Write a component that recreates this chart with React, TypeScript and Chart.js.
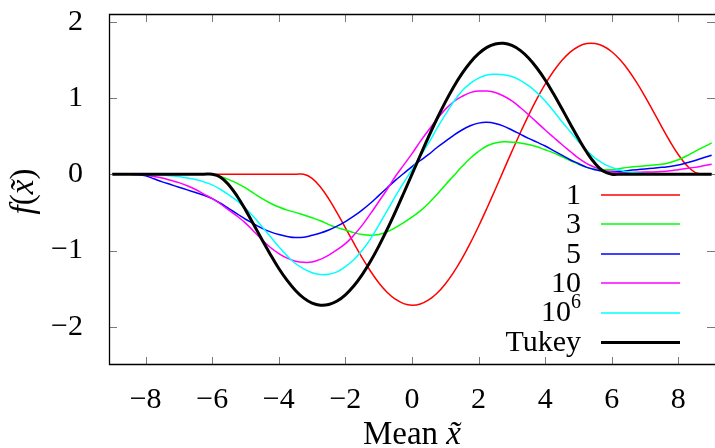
import { useEffect, useRef } from 'react';
import { Chart, registerables } from 'chart.js';

Chart.register(...registerables);

// x positions (mean x̃), every 0.25
const xs = [
  -9, -8.75, -8.5, -8.25, -8, -7.75, -7.5, -7.25, -7, -6.75, -6.5, -6.25, -6,
  -5.75, -5.5, -5.25, -5, -4.75, -4.5, -4.25, -4, -3.75, -3.5, -3.25, -3,
  -2.75, -2.5, -2.25, -2, -1.75, -1.5, -1.25, -1, -0.75, -0.5, -0.25, 0,
  0.25, 0.5, 0.75, 1, 1.25, 1.5, 1.75, 2, 2.25, 2.5, 2.75, 3,
  3.25, 3.5, 3.75, 4, 4.25, 4.5, 4.75, 5, 5.25, 5.5, 5.75, 6,
  6.25, 6.5, 6.75, 7, 7.25, 7.5, 7.75, 8, 8.25, 8.5, 8.75, 9,
];

const series1 = [
  0, 0, 0, 0, 0, 0, 0, 0, 0, 0, 0, 0, 0,
  0, 0, 0, 0, 0, 0, 0, 0, 0, 0, 0, -0.054,
  -0.167, -0.322, -0.505, -0.702, -0.901, -1.092, -1.268, -1.421, -1.546, -1.638, -1.696, -1.717,
  -1.701, -1.648, -1.56, -1.438, -1.286, -1.106, -0.903, -0.681, -0.445, -0.2, 0.05, 0.299,
  0.541, 0.772, 0.987, 1.181, 1.35, 1.491, 1.6, 1.674, 1.712, 1.713, 1.677, 1.605,
  1.499, 1.363, 1.2, 1.017, 0.821, 0.622, 0.429, 0.256, 0.116, 0.025, 0, 0,
];
const series3 = [
  0, 0, 0, 0, 0, 0, 0, 0, 0, 0, 0, 0, 0,
  -0.03, -0.07, -0.12, -0.18, -0.25, -0.32, -0.38, -0.43, -0.47, -0.5, -0.535, -0.57,
  -0.61, -0.66, -0.7, -0.73, -0.765, -0.79, -0.8, -0.79, -0.755, -0.7, -0.635, -0.56,
  -0.48, -0.38, -0.265, -0.14, -0.02, 0.1, 0.21, 0.3, 0.37, 0.41, 0.425, 0.42,
  0.41, 0.39, 0.36, 0.32, 0.28, 0.23, 0.18, 0.13, 0.09, 0.07, 0.06, 0.06,
  0.075, 0.09, 0.1, 0.11, 0.12, 0.13, 0.155, 0.19, 0.24, 0.3, 0.355, 0.41,
];
const series5 = [
  0, 0, 0, -0.005, -0.02, -0.06, -0.1, -0.135, -0.17, -0.205, -0.24, -0.275, -0.32,
  -0.38, -0.45, -0.52, -0.59, -0.65, -0.71, -0.755, -0.79, -0.815, -0.83, -0.825, -0.8,
  -0.77, -0.73, -0.68, -0.62, -0.55, -0.47, -0.38, -0.28, -0.18, -0.08, 0.01, 0.1,
  0.18, 0.26, 0.35, 0.43, 0.51, 0.58, 0.635, 0.67, 0.68, 0.665, 0.63, 0.58,
  0.525, 0.47, 0.42, 0.37, 0.31, 0.25, 0.19, 0.14, 0.09, 0.06, 0.04, 0.035,
  0.04, 0.05, 0.06, 0.07, 0.08, 0.09, 0.1, 0.12, 0.15, 0.18, 0.215, 0.25,
];
const series10 = [
  0, 0, 0, -0.003, -0.01, -0.03, -0.05, -0.08, -0.11, -0.15, -0.2, -0.26, -0.32,
  -0.39, -0.47, -0.55, -0.64, -0.75, -0.86, -0.96, -1.04, -1.1, -1.14, -1.155, -1.15,
  -1.115, -1.06, -0.99, -0.91, -0.8, -0.67, -0.52, -0.36, -0.2, -0.03, 0.12, 0.27,
  0.43, 0.58, 0.72, 0.85, 0.95, 1.02, 1.07, 1.09, 1.09, 1.07, 1.025, 0.96,
  0.875, 0.78, 0.68, 0.58, 0.485, 0.39, 0.3, 0.21, 0.14, 0.09, 0.05, 0.03,
  0.02, 0.02, 0.025, 0.03, 0.03, 0.035, 0.045, 0.06, 0.075, 0.09, 0.11, 0.13,
];
const series1e6 = [
  0, 0, 0, 0, 0, -0.005, -0.01, -0.02, -0.03, -0.05, -0.07, -0.1, -0.14,
  -0.2, -0.27, -0.35, -0.45, -0.56, -0.69, -0.82, -0.95, -1.07, -1.17, -1.24, -1.29,
  -1.315, -1.31, -1.28, -1.21, -1.12, -1.0, -0.85, -0.67, -0.48, -0.29, -0.11, 0.06,
  0.24, 0.41, 0.6, 0.78, 0.95, 1.09, 1.19, 1.26, 1.3, 1.31, 1.305, 1.28,
  1.23, 1.16, 1.07, 0.96, 0.83, 0.69, 0.56, 0.43, 0.31, 0.21, 0.14, 0.09,
  0.055, 0.03, 0.02, 0.01, 0.005, 0, 0, 0, 0, 0, 0, 0,
];
const seriesTukey = [
  0, 0, 0, 0, 0, 0, 0, 0, 0, 0, 0, 0, 0,
  -0.038, -0.14, -0.288, -0.467, -0.662, -0.861, -1.055, -1.235, -1.392, -1.523, -1.623, -1.688,
  -1.716, -1.707, -1.662, -1.58, -1.465, -1.318, -1.144, -0.945, -0.727, -0.493, -0.249, 0,
  0.249, 0.493, 0.727, 0.945, 1.144, 1.318, 1.465, 1.58, 1.662, 1.707, 1.716, 1.688,
  1.623, 1.523, 1.392, 1.235, 1.055, 0.861, 0.662, 0.467, 0.288, 0.14, 0.038, 0,
  0, 0, 0, 0, 0, 0, 0, 0, 0, 0, 0, 0,
];

const seriesLabels = ['1', '3', '5', '10', '10^6', 'Tukey'];
const seriesValues = [series1, series3, series5, series10, series1e6, seriesTukey];
const seriesColors = ['#ff0000', '#00ff00', '#0000ff', '#ff00ff', '#00ffff', '#000000'];
const seriesWidths = [1.5, 1.5, 1.5, 1.5, 1.5, 3];

const xTicks = [-8, -6, -4, -2, 0, 2, 4, 6, 8];
const yTicks = [-2, -1, 0, 1, 2];

const SERIF = "'Liberation Serif', 'DejaVu Serif', serif";
const FONT_SIZE = 30;
const TITLE_SIZE = 33;

const fmt = (v: number) => (v < 0 ? '\u2212' + Math.abs(v) : String(v));

type Piece = { t: string; italic?: boolean };

function drawPieces(ctx: CanvasRenderingContext2D, pieces: Piece[], cx: number, baseline: number, size: number) {
  const widths = pieces.map((p) => {
    ctx.font = `${p.italic ? 'italic ' : ''}${size}px ${SERIF}`;
    return ctx.measureText(p.t).width;
  });
  const total = widths.reduce((a, b) => a + b, 0);
  let x = cx - total / 2;
  ctx.textAlign = 'left';
  ctx.textBaseline = 'alphabetic';
  pieces.forEach((p, i) => {
    ctx.font = `${p.italic ? 'italic ' : ''}${size}px ${SERIF}`;
    ctx.fillText(p.t, x, baseline);
    x += widths[i];
  });
}

const decorPlugin = {
  id: 'decor',
  beforeDatasetsDraw(chart: any) {
    const { ctx, chartArea: a, scales } = chart;
    ctx.save();
    const tl = 8;
    ctx.strokeStyle = '#7a7a7a';
    ctx.lineWidth = 1;
    const seg = (x1: number, y1: number, x2: number, y2: number) => {
      ctx.beginPath();
      ctx.moveTo(x1, y1);
      ctx.lineTo(x2, y2);
      ctx.stroke();
    };
    xTicks.forEach((v) => {
      const px = Math.round(scales.x.getPixelForValue(v)) + 0.5;
      seg(px, a.bottom, px, a.bottom - tl);
      seg(px, a.top, px, a.top + tl);
    });
    yTicks.forEach((v) => {
      const py = Math.round(scales.y.getPixelForValue(v)) + 0.5;
      seg(a.left, py, a.left + tl, py);
      seg(a.right, py, a.right - tl, py);
    });
    ctx.strokeStyle = '#000';
    ctx.lineWidth = 1.3;
    ctx.beginPath();
    ctx.moveTo(a.right + 2, a.top + 0.5);
    ctx.lineTo(a.left + 0.5, a.top + 0.5);
    ctx.lineTo(a.left + 0.5, a.bottom - 0.5);
    ctx.lineTo(a.right + 2, a.bottom - 0.5);
    ctx.stroke();
    ctx.restore();
  },
  afterDraw(chart: any) {
    const { ctx, chartArea: a } = chart;
    ctx.save();
    ctx.fillStyle = '#000';
    // x axis title
    drawPieces(ctx, [{ t: 'Mean ' }, { t: 'x\u0303', italic: true }], (a.left + a.right) / 2, 444, TITLE_SIZE);
    // y axis title (rotated)
    ctx.save();
    ctx.translate(33, (a.top + a.bottom) / 2 + 2);
    ctx.rotate(-Math.PI / 2);
    drawPieces(
      ctx,
      [{ t: 'f', italic: true }, { t: '(' }, { t: 'x\u0303', italic: true }, { t: ')' }],
      0,
      0,
      TITLE_SIZE
    );
    ctx.restore();

    // legend
    const textRight = a.right - 134;
    const lx1 = a.right - 114;
    const lx2 = a.right - 35;
    const rowGap = 29.4;
    const n = chart.data.datasets.length;
    chart.data.datasets.forEach((ds: any, i: number) => {
      const y = a.bottom - 23 - (n - 1 - i) * rowGap;
      const label: string = seriesLabels[i];
      ctx.textBaseline = 'middle';
      ctx.fillStyle = '#000';
      if (label.includes('^')) {
        const [base, sup] = label.split('^');
        ctx.font = `20px ${SERIF}`;
        const sw = ctx.measureText(sup).width;
        ctx.textAlign = 'left';
        ctx.fillText(sup, textRight - sw, y - 10);
        ctx.font = `${FONT_SIZE}px ${SERIF}`;
        ctx.textAlign = 'right';
        ctx.fillText(base, textRight - sw, y + 1);
      } else {
        ctx.font = `${FONT_SIZE}px ${SERIF}`;
        ctx.textAlign = 'right';
        ctx.fillText(label, textRight, y + 1);
      }
      ctx.strokeStyle = ds.borderColor;
      ctx.lineWidth = ds.borderWidth;
      ctx.beginPath();
      const yy = Math.round(y) + (ds.borderWidth % 2 === 1 ? 0.5 : 0);
      ctx.moveTo(lx1, yy);
      ctx.lineTo(lx2, yy);
      ctx.stroke();
    });
    ctx.restore();
  },
};

export default function App() {
  const ref = useRef<HTMLCanvasElement | null>(null);
  useEffect(() => {
    document.body.style.margin = '0';
    const canvas = ref.current;
    if (!canvas) return;
    const datasets = seriesValues.map((vals, i) => ({
      label: seriesLabels[i],
      data: xs.map((x, j) => ({ x, y: vals[j] })),
      borderColor: seriesColors[i],
      backgroundColor: seriesColors[i],
      borderWidth: seriesWidths[i],
      pointRadius: 0,
      tension: 0.4,
      fill: false,
      order: seriesValues.length - i,
    }));
    const chart = new Chart(canvas, {
      type: 'line',
      data: { datasets },
      options: {
        animation: false,
        responsive: false,
        devicePixelRatio: 1,
        layout: { padding: { top: 14, right: -1, left: 0, bottom: 0 } },
        plugins: { legend: { display: false }, tooltip: { enabled: false } },
        events: [],
        scales: {
          x: {
            type: 'linear',
            min: -9.1,
            max: 9.1,
            grid: { display: false },
            border: { display: false },
            afterBuildTicks: (s: any) => {
              s.ticks = xTicks.map((v) => ({ value: v }));
            },
            afterFit: (s: any) => {
              s.height = 83;
              s.paddingLeft = 0;
              s.paddingRight = 0;
            },
            ticks: {
              padding: 9,
              color: '#000',
              font: { family: SERIF, size: FONT_SIZE },
              maxRotation: 0,
              autoSkip: false,
              callback: (v: any) => fmt(Number(v)),
            },
          },
          y: {
            type: 'linear',
            min: -2.5,
            max: 2.1,
            grid: { display: false },
            border: { display: false },
            afterBuildTicks: (s: any) => {
              s.ticks = yTicks.map((v) => ({ value: v }));
            },
            afterFit: (s: any) => {
              s.width = 109;
              s.paddingTop = 0;
              s.paddingBottom = 0;
            },
            ticks: {
              padding: 18,
              color: '#000',
              font: { family: SERIF, size: FONT_SIZE },
              autoSkip: false,
              callback: (v: any) => fmt(Number(v)),
            },
          },
        },
      },
      plugins: [decorPlugin],
    } as any);
    return () => chart.destroy();
  }, []);
  return (
    <div style={{ width: 715, height: 448 }}>
      <canvas ref={ref} width={715} height={448} style={{ display: 'block' }} />
    </div>
  );
}
